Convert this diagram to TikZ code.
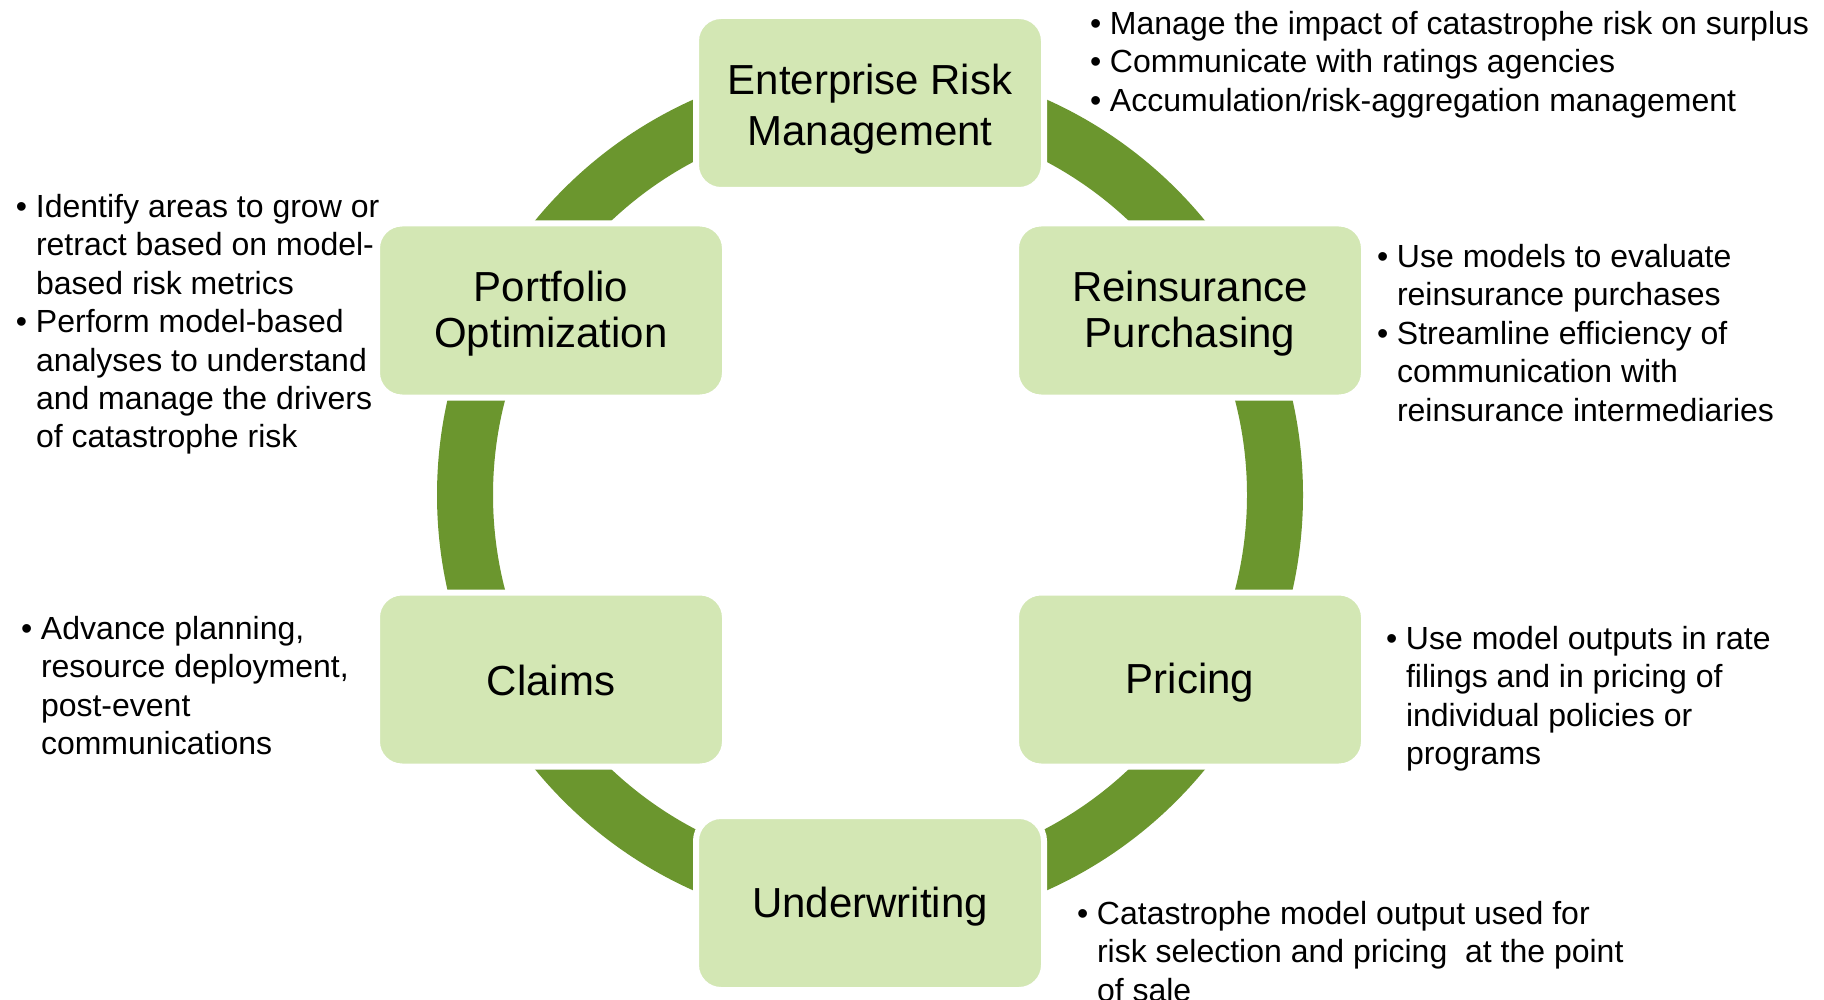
\documentclass[tikz,border=0pt]{standalone}
\usepackage{fontspec}
\setmainfont{Liberation Sans}
\definecolor{ringgreen}{RGB}{107,150,46}
\definecolor{boxgreen}{RGB}{211,231,180}
% lower a line of text without changing the box it occupies
\newcommand{\lowerby}[2]{\raisebox{-#1}[\height][\depth]{#2}}

\begin{document}
\begin{tikzpicture}[x=0.5pt,y=-0.5pt,
  stagebox/.style={rectangle, rounded corners=12.5pt, fill=boxgreen,
    draw=white, line width=3pt, minimum width=174pt, minimum height=87pt,
    inner sep=0pt, align=center, font=\fontsize{21}{23.25}\selectfont},
  notes/.style={anchor=base west, inner sep=0pt, outer sep=0pt,
    font=\fontsize{16}{19.2}\selectfont}]

  % page area
  \fill[white] (0,0) rectangle (1824,1000);
  \useasboundingbox (0,0) rectangle (1824,1000);

  % the cycle ring behind the stages
  \node[circle, draw=ringgreen, line width=28pt, minimum size=405pt,
        inner sep=0pt] (ring) at (870,495) {};

  % stages
  \node[stagebox, font=\fontsize{21}{25.85}\selectfont] (erm) at (870,103)
    {\lowerby{3pt}{Enterprise Risk}\\\lowerby{3pt}{Management}};
  \node[stagebox] (port)  at (551,310.5)
    {\lowerby{1.5pt}{Portfolio}\\\lowerby{1.5pt}{Optimization}};
  \node[stagebox] (reins) at (1190,310.5)
    {\lowerby{1.5pt}{Reinsurance}\\\lowerby{1.5pt}{Purchasing}};
  \node[stagebox] (claims) at (551,679.5) {\lowerby{0.5pt}{Claims}};
  \node[stagebox] (pricing) at (1190,679.5) {\lowerby{1.5pt}{Pricing}};
  \node[stagebox] (uw) at (870,903) {\lowerby{2pt}{Underwriting}};

  % notes beside each stage
  \node[notes] (ermnotes) at (1090,34.5) {\begin{tabular}[t]{@{}p{10pt}@{}l@{}}
    • & Manage the impact of catastrophe risk on surplus\\
    • & Communicate with ratings agencies\\
    • & Accumulation/risk-aggregation management
  \end{tabular}};

  \node[notes] (reinsnotes) at (1377,267.5) {\begin{tabular}[t]{@{}p{10pt}@{}l@{}}
    • & Use models to evaluate\\
      & reinsurance purchases\\
    • & Streamline efficiency of\\
      & communication with\\
      & reinsurance intermediaries
  \end{tabular}};

  \node[notes] (portnotes) at (16,217.5) {\begin{tabular}[t]{@{}p{10pt}@{}l@{}}
    • & Identify areas to grow or\\
      & retract based on model-\\
      & based risk metrics\\
    • & Perform model-based\\
      & analyses to understand\\
      & and manage the drivers\\
      & of catastrophe risk
  \end{tabular}};

  \node[notes] (claimsnotes) at (21,639.5) {\begin{tabular}[t]{@{}p{10pt}@{}l@{}}
    • & Advance planning,\\
      & resource deployment,\\
      & post-event\\
      & communications
  \end{tabular}};

  \node[notes] (pricingnotes) at (1386,649.5) {\begin{tabular}[t]{@{}p{10pt}@{}l@{}}
    • & Use model outputs in rate\\
      & filings and in pricing of\\
      & individual policies or\\
      & programs
  \end{tabular}};

  \node[notes] (uwnotes) at (1077,924.5) {\begin{tabular}[t]{@{}p{10pt}@{}l@{}}
    • & Catastrophe model output used for\\
      & risk selection and pricing \ at the point\\
      & of sale
  \end{tabular}};
\end{tikzpicture}
\end{document}
